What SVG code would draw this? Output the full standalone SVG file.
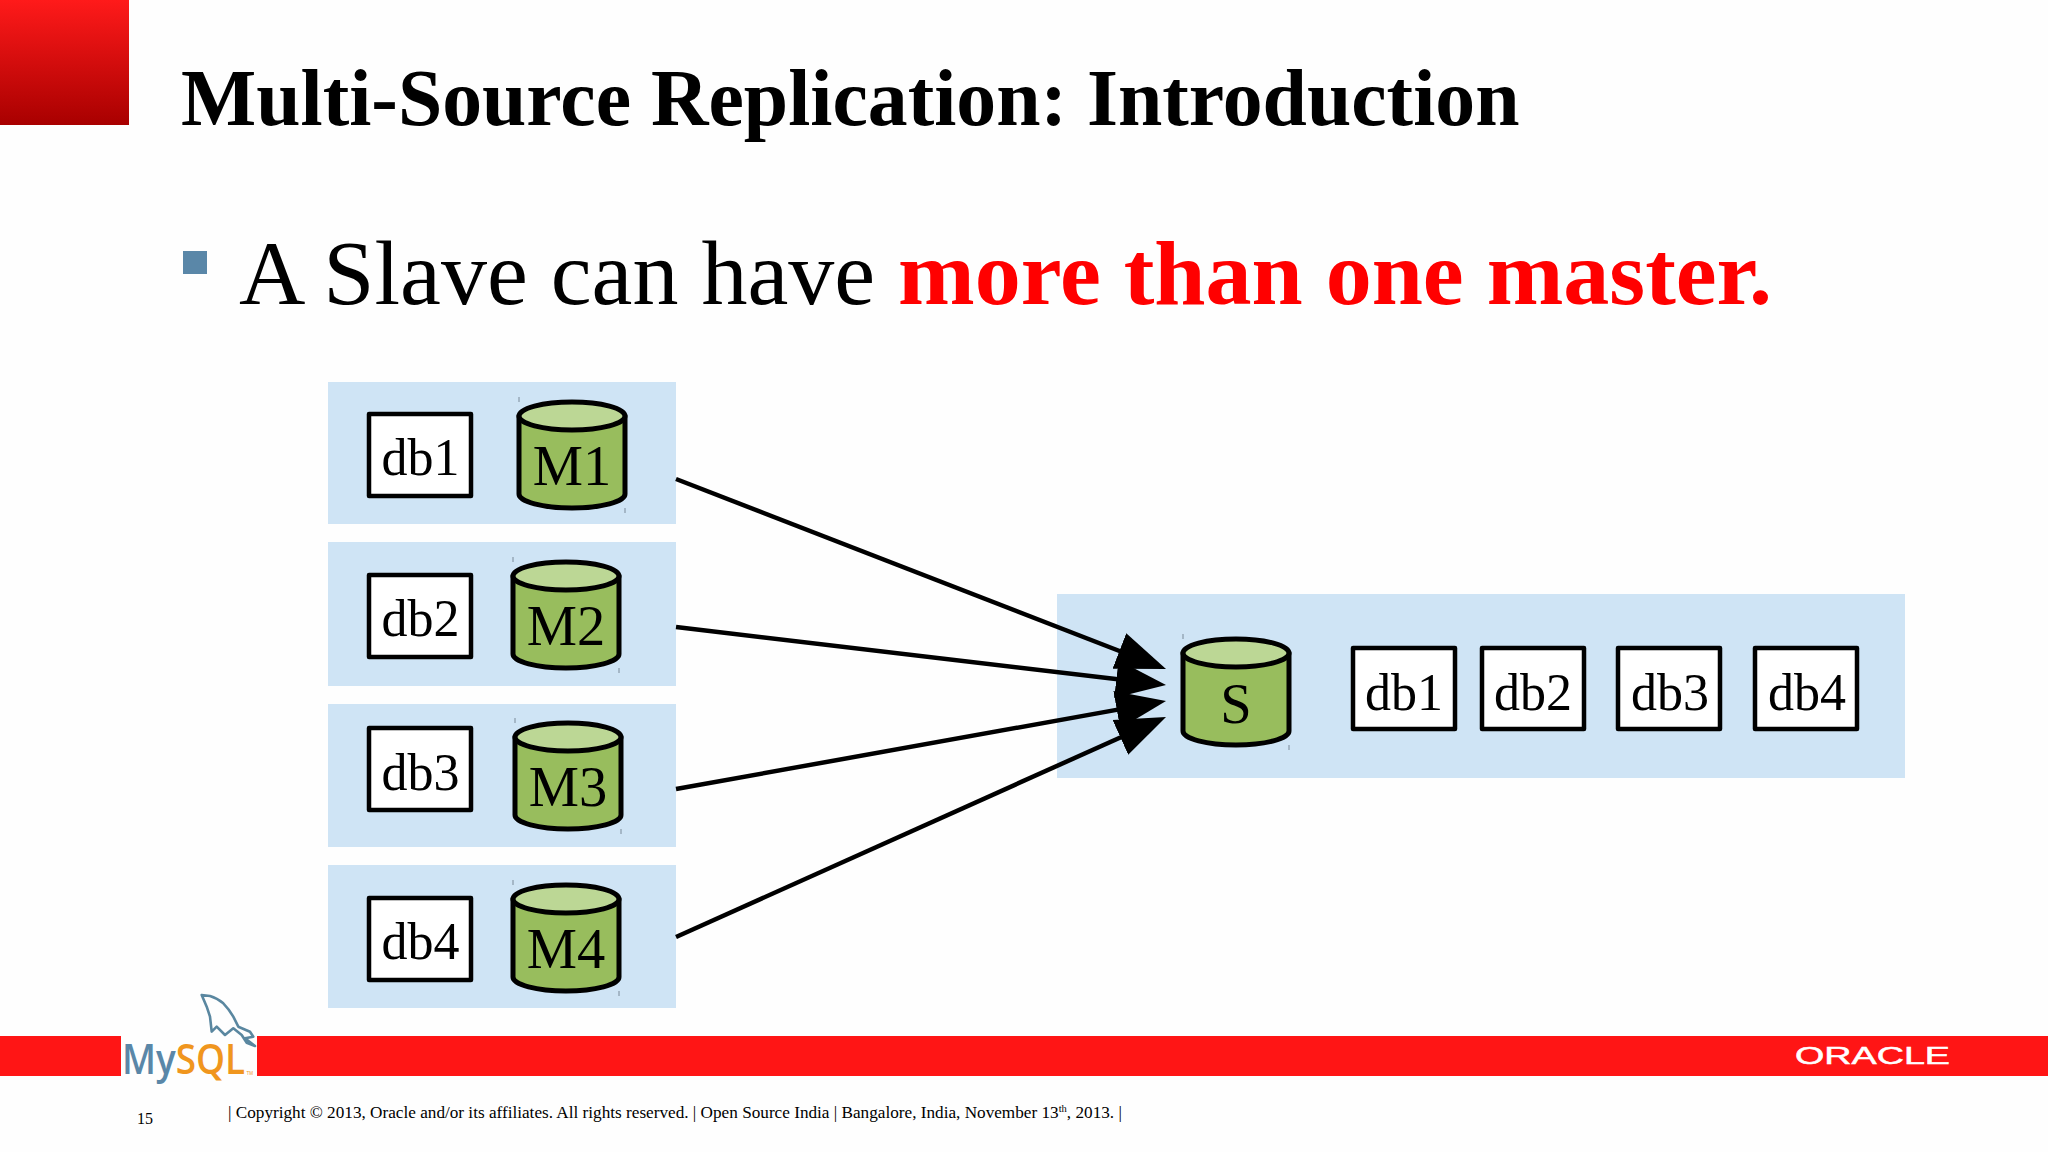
<svg xmlns="http://www.w3.org/2000/svg" width="2048" height="1152" viewBox="0 0 2048 1152">
<style>
text{font-family:"Liberation Serif","Times New Roman",serif;fill:#000}
.panel{fill:#cfe4f5}
.db{fill:#fff;stroke:#000;stroke-width:4.5;stroke-linejoin:round}
.lbl{font-size:52px;text-anchor:middle}
.cl{font-size:56.5px;text-anchor:middle}
.conn{stroke:#000;stroke-width:4.5;fill:none;marker-end:url(#arrow)}
.tick{stroke:#7a8a99;stroke-width:1}
</style>
<defs>
<linearGradient id="corner" x1="0" y1="0" x2="0" y2="1"><stop offset="0" stop-color="#ff1a1a"/><stop offset="1" stop-color="#a80000"/></linearGradient>
<marker id="arrow" markerUnits="userSpaceOnUse" markerWidth="54" markerHeight="44" refX="25" refY="22" orient="auto"><polygon points="0,3 50,22 0,41" fill="#000"/></marker>
<g id="cyl">
<path d="M2,15V93A53,14 0 0 0 108,93V15Z" fill="#98bd5d" stroke="#000" stroke-width="5" stroke-linejoin="round"/>
<ellipse cx="55" cy="15" rx="53" ry="14" fill="#bcd795" stroke="#000" stroke-width="5"/>
<path class="tick" d="M2,-4V1M108,107V112"/>
</g>
</defs>
<rect width="2048" height="1152" fill="#fefefe"/>
<rect id="corner-square" width="129" height="125" fill="url(#corner)"/>
<text id="title" x="181" y="125" font-size="79.7" font-weight="bold">Multi-Source Replication: Introduction</text>
<rect id="bullet" x="183" y="251" width="24" height="23" fill="#5a87a8"/>
<text id="bullet-text" x="239" y="304" font-size="92">A Slave can have <tspan font-weight="bold" fill="#ff0000">more than one master.</tspan></text>

<g id="panel-m1"><rect class="panel" x="328" y="382" width="348" height="142"/><rect class="db" x="369" y="414" width="102" height="82"/><text class="lbl" x="420.5" y="475">db1</text><use href="#cyl" x="517" y="401"/><text class="cl" x="572" y="485">M1</text></g>
<g id="panel-m2"><rect class="panel" x="328" y="542" width="348" height="144"/><rect class="db" x="369" y="575" width="102" height="82"/><text class="lbl" x="420.5" y="636">db2</text><use href="#cyl" x="511" y="561"/><text class="cl" x="566" y="645">M2</text></g>
<g id="panel-m3"><rect class="panel" x="328" y="704" width="348" height="143"/><rect class="db" x="369" y="728" width="102" height="82"/><text class="lbl" x="420.5" y="790">db3</text><use href="#cyl" x="513" y="722"/><text class="cl" x="568" y="806">M3</text></g>
<g id="panel-m4"><rect class="panel" x="328" y="865" width="348" height="143"/><rect class="db" x="369" y="898" width="102" height="82"/><text class="lbl" x="420.5" y="959">db4</text><use href="#cyl" x="511" y="884"/><text class="cl" x="566" y="968">M4</text></g>

<g id="panel-s"><rect class="panel" x="1057" y="594" width="848" height="184"/><use href="#cyl" x="1181" y="638"/><text class="cl" x="1236" y="723">S</text>
<rect class="db" x="1353" y="648" width="102" height="81"/><text class="lbl" x="1404" y="710">db1</text>
<rect class="db" x="1482" y="648" width="102" height="81"/><text class="lbl" x="1533" y="710">db2</text>
<rect class="db" x="1618" y="648" width="102" height="81"/><text class="lbl" x="1670" y="710">db3</text>
<rect class="db" x="1755" y="648" width="102" height="81"/><text class="lbl" x="1807" y="710">db4</text></g>

<g id="connectors">
<path class="conn" d="M676,479L1142.7,660"/>
<path class="conn" d="M676,627L1141.2,682"/>
<path class="conn" d="M676,789L1141.4,705.4"/>
<path class="conn" d="M676,937L1143.2,727.2"/>
</g>

<g id="footer-band"><rect y="1036" width="121" height="40" fill="#ff1515"/><rect x="257" y="1036" width="1791" height="40" fill="#ff1515"/></g>
<g id="mysql-logo">
<path d="M201.7,995L210,996Q217,998 223.3,1003.3Q229,1009 233.3,1016.7L238.3,1026.7L250,1031.7L253.3,1036.7L245,1038.3L255,1046L246.7,1042.7L241.7,1035L233.3,1028.3L225,1035L216.7,1026.7L211.7,1031.7L210,1016.7L206.7,1006.7Z" fill="none" stroke="#5a87a0" stroke-width="2.6" stroke-linejoin="round"/>
<text transform="translate(122,1074) scale(.9,1)" font-size="41" font-weight="600" style="font-family:'Open Sans','Liberation Sans',sans-serif"><tspan style="fill:#5a87a8">My</tspan><tspan style="fill:#f0961e">SQL</tspan></text>
<text x="246.5" y="1075" font-size="4.5" style="font-family:'Liberation Sans',sans-serif;fill:#f0961e">TM</text>
</g>
<text id="oracle" x="1795" y="1064" font-size="24" textLength="155" lengthAdjust="spacingAndGlyphs" stroke="#fff" stroke-width="0.5" style="font-family:'Liberation Sans',sans-serif;fill:#fff">ORACLE</text>
<text id="page" x="137" y="1124" font-size="16">15</text>
<text id="copyright" x="228" y="1118" font-size="17.2">| Copyright © 2013, Oracle and/or its affiliates. All rights reserved. | Open Source India | Bangalore, India, November 13<tspan font-size="10.5" dy="-6">th</tspan><tspan dy="6">, 2013. |</tspan></text>
</svg>
